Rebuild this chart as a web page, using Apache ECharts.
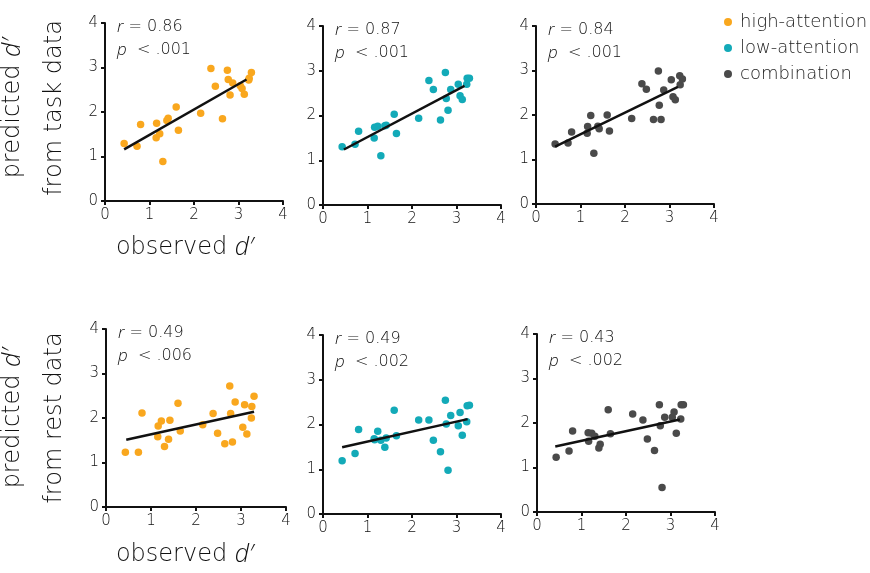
<!DOCTYPE html>
<html><head><meta charset="utf-8">
<script src="https://cdn.jsdelivr.net/npm/echarts@6/dist/echarts.min.js"></script>
<style>html,body{margin:0;padding:0;background:#fff}#c{width:870px;height:573px}</style>
</head><body><div id="c"></div><script>
// observed d' (same subjects in every panel)
const observed = [0.43,0.72,0.80,1.15,1.16,1.23,1.30,1.39,1.42,1.60,1.65,2.15,2.38,2.48,2.64,2.75,2.77,2.81,2.87,3.04,3.08,3.13,3.23,3.24,3.29];
// predicted d' from task data
const taskHigh = [1.29,1.23,1.72,1.42,1.75,1.51,0.89,1.81,1.86,2.11,1.59,1.97,2.98,2.58,1.85,2.94,2.73,2.38,2.65,2.59,2.53,2.40,2.72,2.76,2.89];
const taskLow  = [1.30,1.36,1.65,1.50,1.74,1.76,1.10,1.77,1.78,2.03,1.60,1.94,2.78,2.58,1.90,2.96,2.38,2.12,2.58,2.70,2.44,2.36,2.70,2.83,2.83];
const taskComb = [1.35,1.37,1.62,1.59,1.74,1.99,1.14,1.75,1.69,2.00,1.64,1.92,2.70,2.58,1.90,2.99,2.22,1.90,2.56,2.79,2.41,2.34,2.88,2.68,2.81];
// predicted d' from rest data
const restHigh = [1.23,1.23,2.11,1.58,1.82,1.93,1.36,1.52,1.95,2.33,1.71,1.85,2.10,1.66,1.42,2.72,2.10,1.46,2.36,1.79,2.30,1.64,2.00,2.26,2.49];
const restLow  = [1.19,1.35,1.89,1.68,1.66,1.85,1.65,1.49,1.70,2.32,1.75,2.10,2.10,1.65,1.39,2.54,2.01,0.98,2.20,1.97,2.27,1.76,2.06,2.42,2.43];
const restComb = [1.23,1.37,1.82,1.78,1.59,1.77,1.70,1.44,1.52,2.30,1.76,2.20,2.07,1.64,1.38,2.41,1.94,0.55,2.13,2.13,2.25,1.77,2.09,2.41,2.41];
// fitted regression line end points [x, y]
const fitTaskHigh = [[0.43,1.16],[3.18,2.73]];
const fitTaskLow  = [[0.47,1.24],[3.18,2.66]];
const fitTaskComb = [[0.43,1.29],[3.19,2.63]];
const fitRestHigh = [[0.45,1.51],[3.29,2.14]];
const fitRestLow  = [[0.43,1.49],[3.25,2.12]];
const fitRestComb = [[0.41,1.47],[3.21,2.08]];
// statistics text
const rValues = ['0.86','0.87','0.84','0.49','0.49','0.43'];
const pValues = ['.001','.001','.001','.006','.002','.002'];
const groupNames = ['high-attention','low-attention','combination'];
const tickLabels = ['0','1','2','3','4'];
const rowTitles = ['from task data','from rest data'];

const colors = ['#F9A71E','#13AAB8','#4A4A4A'];
const preds = [taskHigh,taskLow,taskComb,restHigh,restLow,restComb];
const fits = [fitTaskHigh,fitTaskLow,fitTaskComb,fitRestHigh,fitRestLow,fitRestComb];
const grids = [
  {left:105, top:23, width:178, height:178},
  {left:323, top:26, width:178, height:179},
  {left:536, top:26, width:178, height:178},
  {left:106, top:329, width:180, height:178},
  {left:323, top:335, width:178, height:179},
  {left:537, top:334, width:178, height:178}
];
const FF = "'DejaVu Sans', sans-serif";
const FI = "'Open Sans', 'DejaVu Sans', sans-serif";
const TXT = '#111';
const W = 300;

const xAxes = [], yAxes = [], series = [], graphics = [];
const axisCommon = {
  type:'value', min:0, max:4, interval:1,
  axisLine:{show:true, onZero:false, lineStyle:{color:'#111', width:2}},
  axisTick:{show:true, length:4, lineStyle:{color:'#111', width:2}},
  splitLine:{show:false},
  axisLabel:{color:TXT, fontSize:15, fontFamily:FF, fontWeight:W, margin:7, formatter:v=>tickLabels[v]}
};
grids.forEach((g,k)=>{
  xAxes.push(Object.assign({}, axisCommon, {gridIndex:k}));
  yAxes.push(Object.assign({}, axisCommon, {gridIndex:k}));
  const gi = k % 3;
  series.push({
    type:'scatter', name:groupNames[gi], xAxisIndex:k, yAxisIndex:k,
    symbolSize:7.5, itemStyle:{color:colors[gi], opacity:1},
    data: observed.map((x,i)=>[x, preds[k][i]]), z:2
  });
  series.push({
    type:'line', name:'fit'+k, xAxisIndex:k, yAxisIndex:k, symbol:'none',
    lineStyle:{color:'#111', width:2.5}, data:fits[k], z:3, silent:true
  });
  const rich = {
    i:{fontStyle:'italic', fontSize:17, fontFamily:FI, fontWeight:W, fill:TXT},
    n:{fontSize:16, fontFamily:FF, fontWeight:W, fill:TXT}
  };
  graphics.push({type:'text', x:g.left+12, y:g.top+4, z:10,
    style:{text:'{i|r}{n| = '+rValues[k]+'}', rich:rich, fontSize:16, fontFamily:FF, fill:TXT, verticalAlign:'middle', align:'left'}});
  graphics.push({type:'text', x:g.left+12, y:g.top+27, z:10,
    style:{text:'{i|p}{n|  < '+pValues[k]+'}', rich:rich, fontSize:16, fontFamily:FF, fill:TXT, verticalAlign:'middle', align:'left'}});
});

const bigRich = {
  i:{fontStyle:'italic', fontSize:25, fontFamily:FI, fontWeight:W, fill:TXT},
  n:{fontSize:24, fontFamily:FF, fontWeight:W, fill:TXT}
};
[108, 418].forEach((cy,row)=>{
  graphics.push({type:'text', x:13, y:cy, rotation:Math.PI/2, z:10,
    style:{text:'{n|predicted }{i|d\u2032}', rich:bigRich, fontSize:24, fontFamily:FF, fill:TXT, align:'center', verticalAlign:'middle'}});
  graphics.push({type:'text', x:55, y:cy, rotation:Math.PI/2, z:10,
    style:{text:'{n|'+rowTitles[row]+'}', rich:bigRich, fontSize:24, fontFamily:FF, fill:TXT, align:'center', verticalAlign:'middle'}});
});
[248, 555].forEach(cy=>{
  graphics.push({type:'text', x:185, y:cy, z:10,
    style:{text:'{n|observed }{i|d\u2032}', rich:bigRich, fontSize:24, fontFamily:FF, fill:TXT, align:'center', verticalAlign:'middle'}});
});

const chart = echarts.init(document.getElementById('c'), null, {renderer:'canvas'});
chart.setOption({
  animation:false,
  backgroundColor:'#fff',
  grid: grids.map(g=>Object.assign({containLabel:false}, g)),
  xAxis:xAxes, yAxis:yAxes, series:series,
  legend:{
    data:groupNames, orient:'vertical', left:719, top:7,
    icon:'circle', itemWidth:14, itemHeight:8, itemGap:6,
    textStyle:{color:'#222', fontSize:18, fontFamily:FF, fontWeight:W, lineHeight:20},
    selectedMode:false
  },
  graphic:graphics
});
</script></body></html>
